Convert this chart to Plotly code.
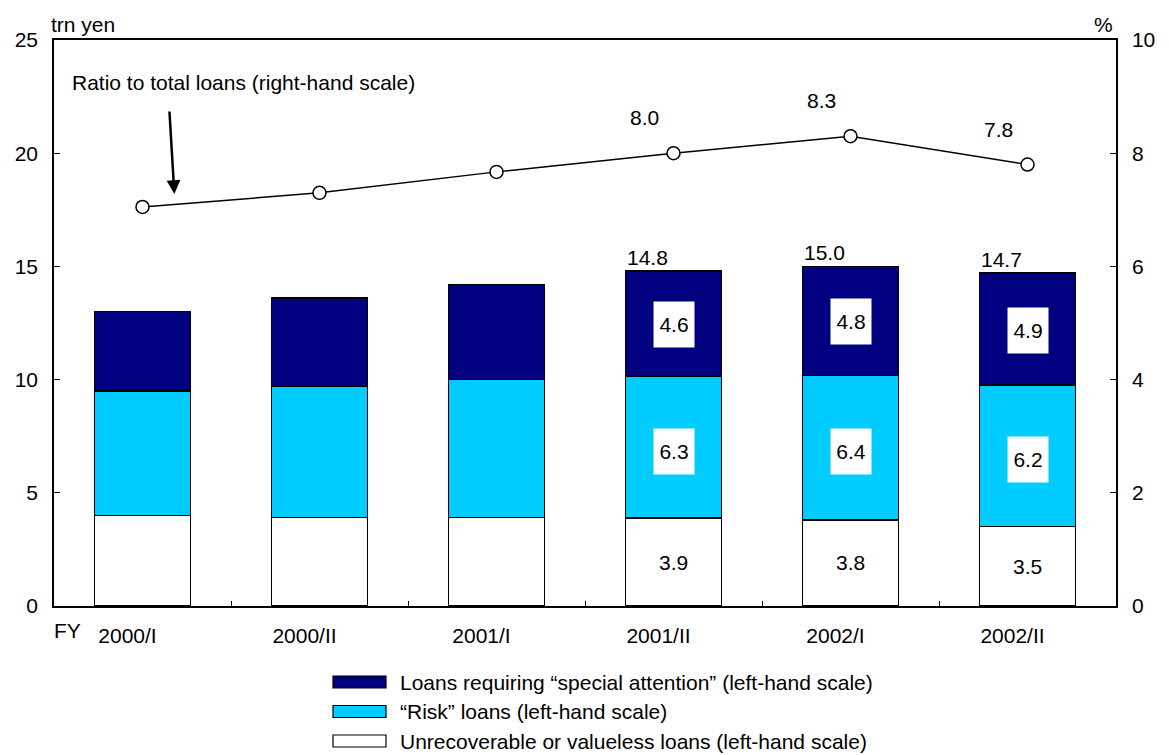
import plotly.graph_objects as go

# Fiscal half-years
periods = ["2000/I", "2000/II", "2001/I", "2001/II", "2002/I", "2002/II"]

# Problem loans, trillion yen (stack from bottom to top)
unrecoverable = [4.0, 3.9, 3.9, 3.88, 3.80, 3.52]
risk = [5.5, 5.8, 6.1, 6.28, 6.38, 6.24]
special_attention = [3.5, 3.9, 4.2, 4.64, 4.82, 4.94]

# Ratio of problem loans to total loans, %
ratio = [7.05, 7.3, 7.67, 8.0, 8.3, 7.8]

# Periods whose values are written on the chart
labelled = ["2001/II", "2002/I", "2002/II"]

NAVY = "#000080"
CYAN = "#00CCFF"
FONT = "Liberation Sans, Arial, sans-serif"
FS = 21

totals = [u + r + s for u, r, s in zip(unrecoverable, risk, special_attention)]

fig = go.Figure()

bar_line = dict(color="#000000", width=1.5)
fig.add_trace(go.Bar(x=periods, y=unrecoverable, marker=dict(color="#FFFFFF", line=bar_line),
                     name="Unrecoverable or valueless loans (left-hand scale)", showlegend=False))
fig.add_trace(go.Bar(x=periods, y=risk, marker=dict(color=CYAN, line=bar_line),
                     name="“Risk” loans (left-hand scale)", showlegend=False))
fig.add_trace(go.Bar(x=periods, y=special_attention, marker=dict(color=NAVY, line=bar_line),
                     name="Loans requiring “special attention” (left-hand scale)", showlegend=False))

fig.add_trace(go.Scatter(x=periods, y=ratio, yaxis="y2", mode="lines+markers",
                         line=dict(color="#000000", width=1.5),
                         marker=dict(symbol="circle", size=13, color="#FFFFFF",
                                     line=dict(color="#000000", width=1.5)),
                         name="Ratio to total loans (right-hand scale)", showlegend=False))

txt_font = dict(size=FS, color="#000000", family=FONT)

annotations = []
for i, p in enumerate(periods):
    if p not in labelled:
        continue
    u, r, s, t = unrecoverable[i], risk[i], special_attention[i], totals[i]
    # segment values
    annotations.append(dict(x=p, y=u / 2, xref="x", yref="y", text=f"{u:.1f}",
                            showarrow=False, font=txt_font))
    annotations.append(dict(x=p, y=u + r / 2, xref="x", yref="y", text=f"{r:.1f}",
                            showarrow=False, bgcolor="#FFFFFF", width=40, height=45,
                            borderpad=0, yshift=-4, font=txt_font))
    annotations.append(dict(x=p, y=u + r + s / 2, xref="x", yref="y", text=f"{s:.1f}",
                            showarrow=False, bgcolor="#FFFFFF", width=40, height=45,
                            borderpad=0, yshift=-1, font=txt_font))
    # stack total
    annotations.append(dict(x=p, y=t, xref="x", yref="y", text=f"{t:.1f}",
                            showarrow=False, yanchor="bottom", xshift=-26, yshift=0,
                            font=txt_font))
    # ratio value
    annotations.append(dict(x=p, y=ratio[i], xref="x", yref="y2", text=f"{ratio[i]:.1f}",
                            showarrow=False, yanchor="bottom", xshift=-29, yshift=22,
                            font=txt_font))

# Line label with arrow
annotations.append(dict(x=0.12, y=0.925, xref="paper", yref="paper",
                        text="Ratio to total loans (right-hand scale)", showarrow=False,
                        xanchor="left", yanchor="middle", xshift=-111,
                        font=txt_font))
annotations.append(dict(x=0.18, y=18.2, xref="x", yref="y", text="", showarrow=True,
                        ax=-5, ay=-84, arrowhead=2, arrowsize=1.1, arrowwidth=2.5,
                        arrowcolor="#000000"))

# Axis captions
annotations.append(dict(x=0, y=1, xref="paper", yref="paper", text="trn yen", showarrow=False,
                        xanchor="left", yanchor="bottom", xshift=-5, yshift=2,
                        font=txt_font))
annotations.append(dict(x=1, y=1, xref="paper", yref="paper", text="%", showarrow=False,
                        xanchor="right", yanchor="bottom", xshift=-1, yshift=2,
                        font=txt_font))
annotations.append(dict(x=0, y=0, xref="paper", yref="paper", text="FY", showarrow=False,
                        xanchor="left", yanchor="top", xshift=-2, yshift=-11,
                        font=txt_font))

# Legend drawn as swatches with text, top of the stack first
legend_items = [
    (NAVY, "Loans requiring “special attention” (left-hand scale)"),
    (CYAN, "“Risk” loans (left-hand scale)"),
    ("#FFFFFF", "Unrecoverable or valueless loans (left-hand scale)"),
]
plot_h = 566.0
plot_w = 1062.0
shapes = []
for k, (col, txt) in enumerate(legend_items):
    cy = 682 + k * 29.5
    y0 = (606 - (cy + 6)) / plot_h
    y1 = (606 - (cy - 6)) / plot_h
    x0 = (333 - 54) / plot_w
    x1 = (386 - 54) / plot_w
    shapes.append(dict(type="rect", xref="paper", yref="paper", x0=x0, x1=x1, y0=y0, y1=y1,
                       fillcolor=col, line=dict(color="#000000", width=1.2)))
    annotations.append(dict(x=(398 - 54) / plot_w, y=(606 - cy) / plot_h, xref="paper", yref="paper",
                            text=txt, showarrow=False, xanchor="left", yanchor="middle",
                            font=txt_font))

fig.update_layout(
    barmode="stack",
    bargap=0.46,
    width=1169,
    height=755,
    margin=dict(l=54, r=53, t=40, b=149),
    paper_bgcolor="#FFFFFF",
    plot_bgcolor="#FFFFFF",
    font=dict(family=FONT, size=FS, color="#000000"),
    showlegend=False,
    xaxis=dict(type="category", showgrid=False, showline=True, linecolor="#000000", linewidth=1.5,
               mirror=True, ticks="inside", ticklen=5, tickcolor="#000000", tickson="boundaries",
               ticklabelshift=-15, ticklabelstandoff=10,
               tickfont=dict(size=FS, family=FONT, color="#000000")),
    yaxis=dict(range=[0, 25], dtick=5, showgrid=False, zeroline=False, showline=True,
               linecolor="#000000", linewidth=1.5, ticks="inside", ticklen=6, tickcolor="#000000",
               ticklabelstandoff=10, tickfont=dict(size=FS, family=FONT, color="#000000")),
    yaxis2=dict(range=[0, 10], dtick=2, overlaying="y", side="right", showgrid=False,
                zeroline=False, showline=True, linecolor="#000000", linewidth=1.5,
                ticks="inside", ticklen=6, tickcolor="#000000", ticklabelstandoff=10,
                tickfont=dict(size=FS, family=FONT, color="#000000")),
    annotations=annotations,
    shapes=shapes,
)

fig.write_html("out.html")
